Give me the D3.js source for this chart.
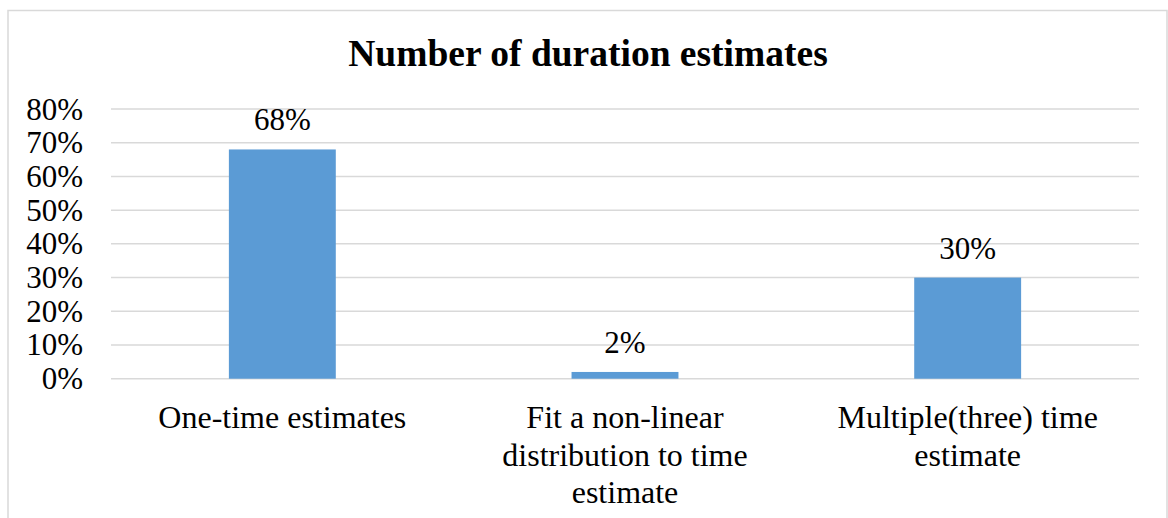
<!DOCTYPE html>
<html>
<head>
<meta charset="utf-8">
<script src="https://cdn.jsdelivr.net/npm/d3@7"></script>
<style>
  html, body { margin: 0; padding: 0; background: #fff; }
  svg { display: block; }
  text { font-family: "Liberation Serif", "Times New Roman", serif; fill: #000; }
</style>
</head>
<body>
<script>
// Share of responses by number of duration estimates
const categories = [
  "One-time estimates",
  "Fit a non-linear distribution to time estimate",
  "Multiple(three) time estimate"
];
const values = [68, 2, 30];
const yTicks = [0, 10, 20, 30, 40, 50, 60, 70, 80];
const title = "Number of duration estimates";

const W = 1168, H = 518;
const margin = { left: 111, right: 29, top: 109, bottom: 139 };
const serif = "'Liberation Serif', 'Times New Roman', serif";

const svg = d3.select("body").append("svg")
  .attr("width", W).attr("height", H);

// chart area frame
svg.append("rect")
  .attr("x", 8).attr("y", 10.5)
  .attr("width", 1159).attr("height", 540)
  .attr("fill", "#fff")
  .attr("stroke", "#d9d9d9").attr("stroke-width", 1.5);

const x = d3.scaleBand()
  .domain(categories)
  .range([margin.left, W - margin.right])
  .paddingInner(0.688).paddingOuter(0.344);

const y = d3.scaleLinear()
  .domain([0, 80])
  .range([H - margin.bottom - 0.3, margin.top]);

// horizontal gridlines
svg.append("g").selectAll("line")
  .data(yTicks)
  .join("line")
  .attr("x1", margin.left).attr("x2", W - margin.right)
  .attr("y1", d => y(d)).attr("y2", d => y(d))
  .attr("stroke", "#d9d9d9").attr("stroke-width", 1.5);

// y-axis labels
const yAxis = d3.axisLeft(y).tickValues(yTicks).tickFormat(d => d + "%").tickSize(0).tickPadding(0);
const yg = svg.append("g").attr("transform", "translate(83,0)").call(yAxis);
yg.attr("font-family", serif);
yg.select(".domain").remove();
yg.selectAll("text")
  .style("font-family", serif)
  .attr("font-size", 31)
  .attr("fill", "#000")
  .attr("dy", 10)
  .attr("x", 0);

// bars
svg.append("g").selectAll("rect")
  .data(values)
  .join("rect")
  .attr("x", (d, i) => x(categories[i]))
  .attr("width", x.bandwidth())
  .attr("y", d => y(d))
  .attr("height", d => y(0) - y(d))
  .attr("fill", "#5b9bd5");

// value labels
svg.append("g").selectAll("text")
  .data(values)
  .join("text")
  .style("font-family", serif)
  .attr("x", (d, i) => x(categories[i]) + x.bandwidth() / 2)
  .attr("y", d => y(d) - 19)
  .attr("text-anchor", "middle")
  .attr("font-size", 31)
  .text(d => d + "%");

// category labels, wrapped to the available width
const maxLineWidth = 275;
const catG = svg.append("g");
categories.forEach((c, i) => {
  const cx = x(c) + x.bandwidth() / 2;
  const t = catG.append("text")
    .style("font-family", serif)
    .attr("x", cx)
    .attr("y", 428)
    .attr("text-anchor", "middle")
    .attr("font-size", 32);
  const words = c.split(" ");
  let line = [];
  let tspan = t.append("tspan").attr("x", cx).attr("dy", 0);
  words.forEach(w => {
    line.push(w);
    tspan.text(line.join(" "));
    if (tspan.node().getComputedTextLength() > maxLineWidth && line.length > 1) {
      line.pop();
      tspan.text(line.join(" "));
      line = [w];
      tspan = t.append("tspan")
        .attr("x", cx)
        .attr("dy", 37.5)
        .text(w);
    }
  });
});

// title
svg.append("text")
  .style("font-family", serif)
  .attr("x", 588)
  .attr("y", 66)
  .attr("text-anchor", "middle")
  .attr("font-size", 37.5)
  .attr("font-weight", "bold")
  .text(title);
</script>
</body>
</html>
